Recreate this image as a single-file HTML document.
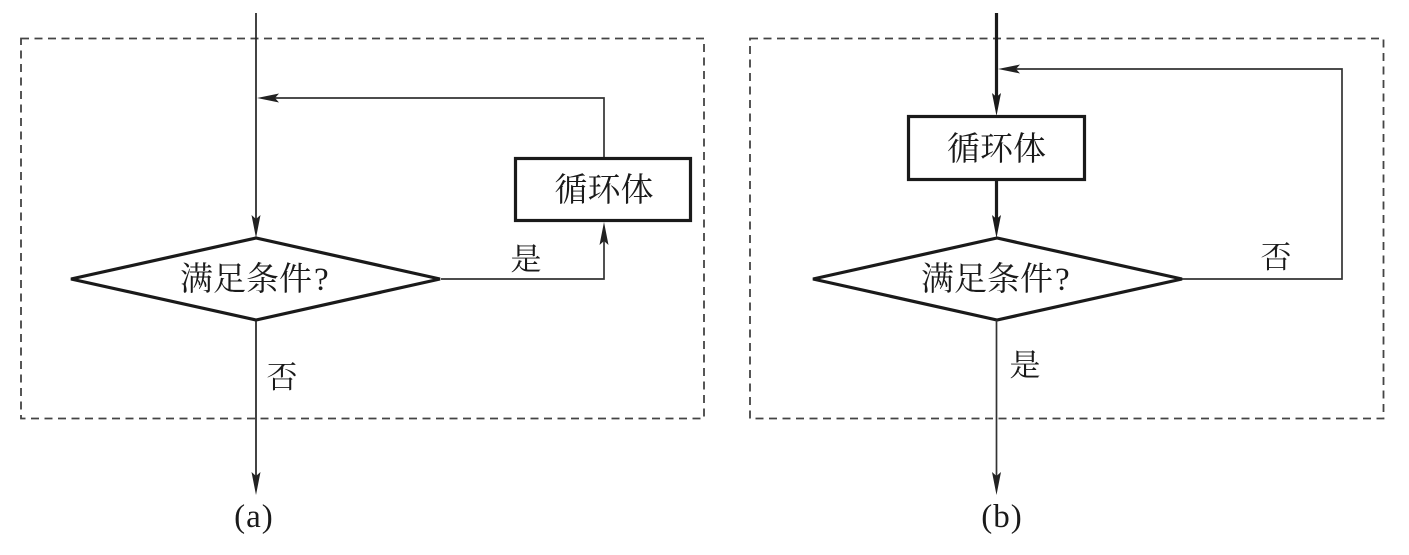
<!DOCTYPE html>
<html>
<head>
<meta charset="utf-8">
<style>
  html, body { margin:0; padding:0; background:#fff; }
  body { width:1409px; height:555px; overflow:hidden; }
  svg { display:block; }
  .cjk { font-family: "Liberation Serif", "Noto Serif CJK SC", "Noto Sans CJK SC", serif; fill:#1a1a1a; }
  .lat { font-family: "Liberation Serif", serif; fill:#1a1a1a; }
</style>
</head>
<body>
<svg width="1409" height="555" viewBox="0 0 1409 555" xmlns="http://www.w3.org/2000/svg">
  <!-- ===== Panel (a) ===== -->
  <rect x="21" y="38.5" width="683" height="380" fill="none" stroke="#444" stroke-width="1.8" stroke-dasharray="8 5.5"/>

  <line x1="256" y1="13" x2="256" y2="222" stroke="#222" stroke-width="1.7"/>
  <path d="M256,238 L251.5,215 L256,219 L260.5,215 Z" fill="#222"/>

  <polyline points="604,157 604,98 262,98" fill="none" stroke="#333" stroke-width="1.7"/>
  <path d="M257,98 L279,93.5 L275,98 L279,102.5 Z" fill="#222"/>

  <rect x="515.5" y="158.5" width="175" height="62" fill="#fff" stroke="#1a1a1a" stroke-width="3.2"/>
  <text x="604" y="201" text-anchor="middle" font-size="33" class="cjk">循环体</text>

  <polygon points="71,279 256,238 440,279 256,320" fill="#fff" stroke="#1a1a1a" stroke-width="3.2" stroke-linejoin="miter"/>
  <text x="180" y="290" font-size="33" class="cjk">满足条件</text>
  <text x="314" y="290" font-size="33" class="lat">?</text>

  <polyline points="441,279 604,279 604,238" fill="none" stroke="#333" stroke-width="1.7"/>
  <path d="M604,222 L599.5,245 L604,241 L608.5,245 Z" fill="#222"/>
  <text x="526" y="270" text-anchor="middle" font-size="31" class="cjk">是</text>

  <line x1="256" y1="320" x2="256" y2="480" stroke="#222" stroke-width="1.7"/>
  <path d="M256,495 L251.5,472 L256,476 L260.5,472 Z" fill="#222"/>
  <text x="282" y="388" text-anchor="middle" font-size="31" class="cjk">否</text>

  <text x="254" y="527" text-anchor="middle" font-size="33" class="lat" letter-spacing="1">(a)</text>

  <!-- ===== Panel (b) ===== -->
  <rect x="750" y="38.5" width="633.5" height="380" fill="none" stroke="#444" stroke-width="1.8" stroke-dasharray="8 5.5"/>

  <line x1="996.5" y1="13" x2="996.5" y2="100" stroke="#1a1a1a" stroke-width="3.2"/>
  <path d="M996.5,116 L992,93 L996.5,97 L1001,93 Z" fill="#1a1a1a"/>

  <polyline points="1182,279 1342,279 1342,69 1004,69" fill="none" stroke="#333" stroke-width="1.7"/>
  <path d="M998,69 L1020,64.5 L1016,69 L1020,73.5 Z" fill="#222"/>
  <text x="1276" y="268" text-anchor="middle" font-size="31" class="cjk">否</text>

  <rect x="908.5" y="116.5" width="176" height="63" fill="#fff" stroke="#1a1a1a" stroke-width="3.2"/>
  <text x="996.5" y="160" text-anchor="middle" font-size="33" class="cjk">循环体</text>

  <line x1="996.5" y1="181" x2="996.5" y2="222" stroke="#1a1a1a" stroke-width="3.2"/>
  <path d="M996.5,238 L992,215 L996.5,219 L1001,215 Z" fill="#1a1a1a"/>

  <polygon points="813,279 997,238 1182,279 997,320" fill="#fff" stroke="#1a1a1a" stroke-width="3.2" stroke-linejoin="miter"/>
  <text x="921" y="290" font-size="33" class="cjk">满足条件</text>
  <text x="1055" y="290" font-size="33" class="lat">?</text>

  <line x1="996.5" y1="320" x2="996.5" y2="480" stroke="#333" stroke-width="1.7"/>
  <path d="M996.5,495 L992,472 L996.5,476 L1001,472 Z" fill="#222"/>
  <text x="1025" y="376" text-anchor="middle" font-size="31" class="cjk">是</text>

  <text x="1002" y="527" text-anchor="middle" font-size="33" class="lat" letter-spacing="1">(b)</text>
</svg>
</body>
</html>
